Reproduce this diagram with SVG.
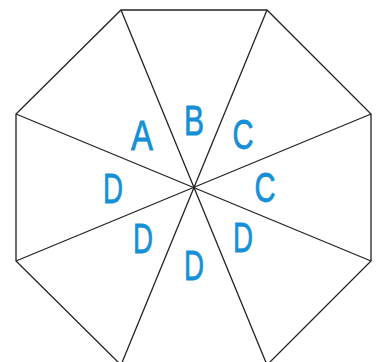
<svg xmlns="http://www.w3.org/2000/svg" width="380" height="362" viewBox="0 0 380 362">
<style>
.ln{fill:none;stroke:#222;stroke-width:1.3;stroke-linejoin:miter}
.lb{font-family:"Liberation Sans",Arial,sans-serif;font-size:42px;fill:#1590d6;stroke:#1590d6;stroke-width:0.8;text-anchor:middle}
</style>
<rect width="380" height="362" fill="#fff"/>
<g id="octagon">
<polygon class="ln" points="121,10 267,10 371,114 371,261 267,365 121,365 16,261 16,114"/>
</g>
<g id="connectors">
<line class="ln" x1="121" y1="10" x2="267" y2="365"/>
<line class="ln" x1="267" y1="10" x2="121" y2="365"/>
<line class="ln" x1="16" y1="114" x2="371" y2="261"/>
<line class="ln" x1="371" y1="114" x2="16" y2="261"/>
</g>
<g id="labels">
<text class="lb" x="142" y="150" textLength="22" lengthAdjust="spacingAndGlyphs">A</text>
<text class="lb" x="194" y="135" textLength="20" lengthAdjust="spacingAndGlyphs">B</text>
<text class="lb" x="243" y="149" textLength="21" lengthAdjust="spacingAndGlyphs">C</text>
<text class="lb" x="113" y="203" textLength="20" lengthAdjust="spacingAndGlyphs">D</text>
<text class="lb" x="265" y="202" textLength="21" lengthAdjust="spacingAndGlyphs">C</text>
<text class="lb" x="143" y="253" textLength="20" lengthAdjust="spacingAndGlyphs">D</text>
<text class="lb" x="194" y="280" textLength="20" lengthAdjust="spacingAndGlyphs">D</text>
<text class="lb" x="243" y="252" textLength="20" lengthAdjust="spacingAndGlyphs">D</text>
</g>
</svg>
